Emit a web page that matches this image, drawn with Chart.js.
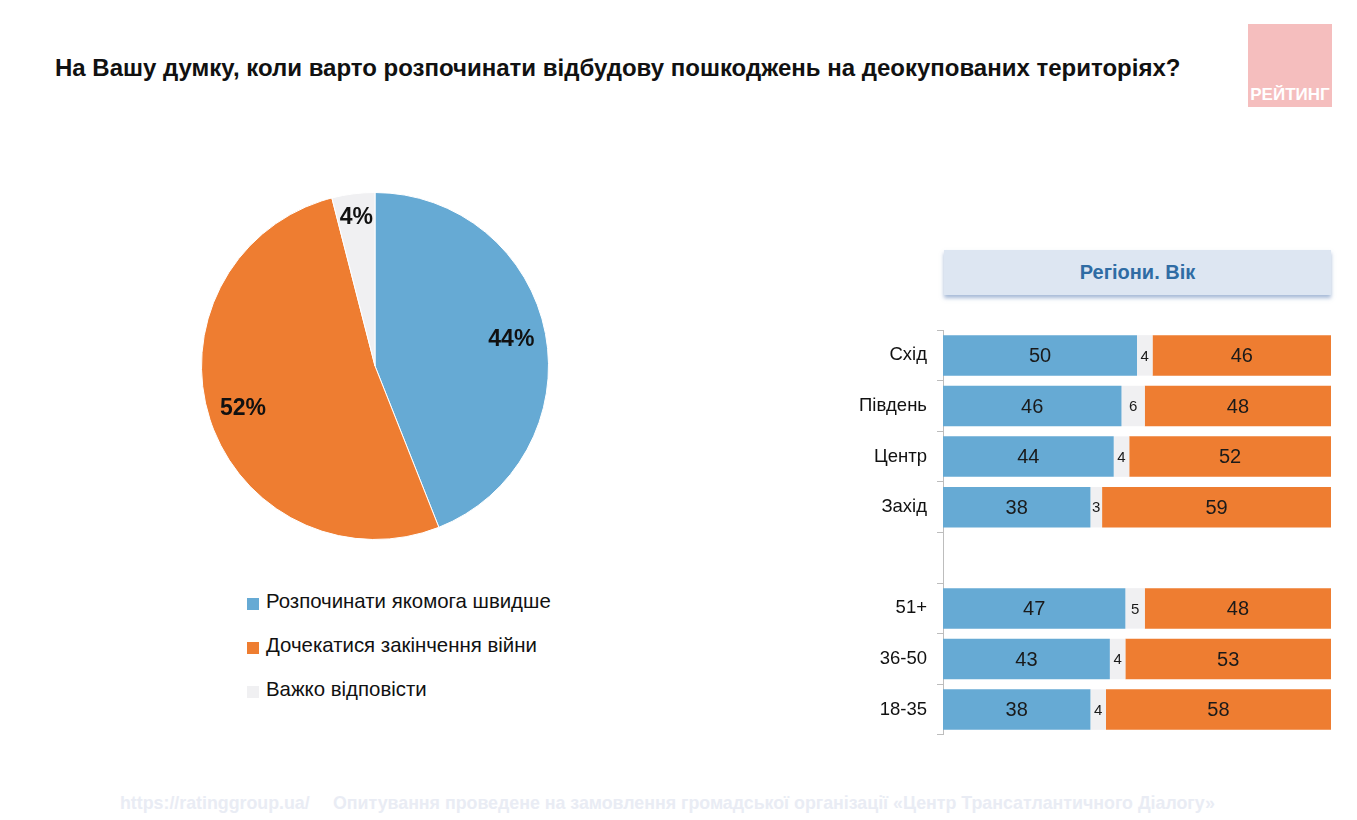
<!DOCTYPE html>
<html>
<head>
<meta charset="utf-8">
<script src="https://cdn.jsdelivr.net/npm/chart.js@4/dist/chart.umd.min.js"></script>
<style>
  body { margin: 0; background: #fff; font-family: "Liberation Sans", Arial, sans-serif; }
  #wrap { position: relative; width: 1357px; height: 820px; overflow: hidden; }
  #title { position: absolute; left: 55px; top: 54px; font-size: 24px; font-weight: bold; color: #111; white-space: nowrap; }
  #logo { position: absolute; left: 1248px; top: 24px; width: 84px; height: 83px; background: #f5bebe; }
  #logo span { position: absolute; left: 0; right: 0; bottom: 2px; text-align: center; color: #fff; font-weight: bold; font-size: 17px; }
  #pieBox { position: absolute; left: 195px; top: 186px; width: 360px; height: 360px; }
  #legend { position: absolute; left: 247px; top: 590px; }
  .lg { height: 44px; display: flex; align-items: flex-start; font-size: 20.4px; color: #111; }
  .lg i { display: inline-block; width: 12px; height: 12px; margin: 8px 7px 0 0; }
  #hdr { position: absolute; left: 944px; top: 250px; width: 387px; height: 45px; background: #dde6f2;
         box-shadow: 0 3px 4px rgba(90,125,180,0.55); text-align: center; line-height: 45px;
         color: #2f6ca4; font-weight: bold; font-size: 20px; }
  #barBox { position: absolute; left: 840px; top: 309px; width: 500px; height: 447px; }
  .foot { position: absolute; top: 793px; font-size: 17.8px; font-weight: bold; color: #e9ecf4; white-space: nowrap; }
</style>
</head>
<body>
<div id="wrap">
  <div id="title">На Вашу думку, коли варто розпочинати відбудову пошкоджень на деокупованих територіях?</div>
  <div id="logo"><span>РЕЙТИНГ</span></div>
  <div id="pieBox"><canvas id="pieChart"></canvas></div>
  <div id="legend"></div>
  <div id="hdr">Регіони. Вік</div>
  <div id="barBox"><canvas id="barChart"></canvas></div>
  <div class="foot" style="left:120px">https://ratinggroup.ua/</div>
  <div class="foot" style="left:333px">Опитування проведене на замовлення громадської організації «Центр Трансатлантичного Діалогу»</div>
</div>
<script>
// answers (pie)
var answers = ["Розпочинати якомога швидше", "Дочекатися закінчення війни", "Важко відповісти"];
var totals = [44, 52, 4];
var colors = ["#66aad4", "#ee7d31", "#f0f0f2"];

// regions / age groups (bars), '' is the gap row
var groups = ["Схід", "Південь", "Центр", "Захід", "", "51+", "36-50", "18-35"];
var asap = [50, 46, 44, 38, null, 47, 43, 38];
var hard = [4, 6, 4, 3, null, 5, 4, 4];
var wait = [46, 48, 52, 59, null, 48, 53, 58];

// html legend
var lg = document.getElementById("legend");
answers.forEach(function (a, i) {
    var d = document.createElement("div");
    d.className = "lg";
    d.innerHTML = '<i style="background:' + colors[i] + '"></i>' + a;
    lg.appendChild(d);
});

var pieLabels = {
    id: "pieLabels",
    afterDatasetsDraw: function (chart) {
        var ctx = chart.ctx;
        var meta = chart.getDatasetMeta(0);
        ctx.save();
        ctx.font = "bold 23px 'Liberation Sans', Arial, sans-serif";
        ctx.fillStyle = "#111";
        ctx.textAlign = "center";
        ctx.textBaseline = "middle";
        meta.data.forEach(function (arc, i) {
            var v = chart.data.datasets[0].data[i];
            var mid = (arc.startAngle + arc.endAngle) / 2;
            var r = arc.outerRadius * (v < 10 ? 0.86 : 0.8);
            ctx.fillText(v + "%", arc.x + Math.cos(mid) * r, arc.y + Math.sin(mid) * r);
        });
        ctx.restore();
    }
};

new Chart(document.getElementById("pieChart").getContext("2d"), {
    type: "pie",
    data: {
        labels: answers,
        datasets: [{ data: totals, backgroundColor: colors, borderColor: "#fff", borderWidth: 1 }]
    },
    options: {
        responsive: true,
        maintainAspectRatio: false,
        animation: false,
        layout: { padding: 6 },
        plugins: { legend: { display: false }, tooltip: { enabled: false } }
    },
    plugins: [pieLabels]
});

var barLabels = {
    id: "barLabels",
    afterDatasetsDraw: function (chart) {
        var ctx = chart.ctx;
        ctx.save();
        ctx.textAlign = "center";
        ctx.textBaseline = "middle";
        ctx.fillStyle = "#1a1a1a";
        chart.data.datasets.forEach(function (ds, di) {
            var meta = chart.getDatasetMeta(di);
            ctx.font = (di == 1 ? "15px" : "20px") + " 'Liberation Sans', Arial, sans-serif";
            meta.data.forEach(function (bar, i) {
                var v = ds.data[i];
                if (v == null) return;
                ctx.fillText(v, (bar.x + bar.base) / 2, bar.y + 1);
            });
        });
        ctx.restore();
    }
};

new Chart(document.getElementById("barChart").getContext("2d"), {
    type: "bar",
    data: {
        labels: groups,
        datasets: [
            { label: answers[0], data: asap, backgroundColor: colors[0] },
            { label: answers[2], data: hard, backgroundColor: colors[2] },
            { label: answers[1], data: wait, backgroundColor: colors[1] }
        ]
    },
    options: {
        indexAxis: "y",
        responsive: true,
        maintainAspectRatio: false,
        animation: false,
        layout: { padding: { top: 0, bottom: 0, right: 9, left: 0 } },
        datasets: { bar: { categoryPercentage: 0.8, barPercentage: 1 } },
        scales: {
            x: { stacked: true, min: 0, max: 100, display: false },
            y: {
                stacked: true,
                afterFit: function (s) { s.width = 103; },
                grid: { drawOnChartArea: false, drawTicks: true, tickLength: 6, color: "#bdbdbd" },
                border: { color: "#bdbdbd" },
                ticks: { color: "#111", font: { size: 18.5, family: "'Liberation Sans', Arial, sans-serif" }, padding: 10 }
            }
        },
        plugins: { legend: { display: false }, tooltip: { enabled: false } }
    },
    plugins: [barLabels]
});
</script>
</body>
</html>
